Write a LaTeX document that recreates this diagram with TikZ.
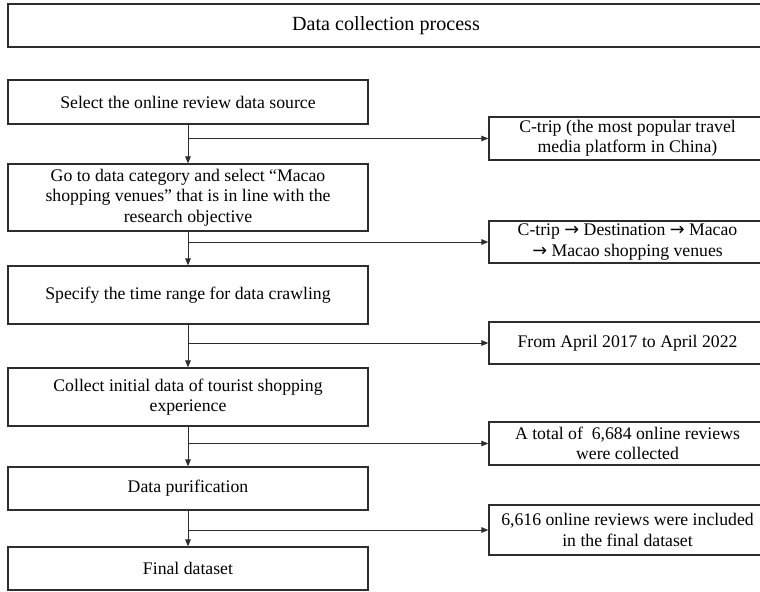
\documentclass[tikz,border=0pt]{standalone}
\usepackage{fontspec}
\setmainfont{Liberation Serif}
\newfontfamily\arrowfont{DejaVu Sans}
\usepackage{tikz}
\usetikzlibrary{arrows.meta,positioning}
\definecolor{clrL}{RGB}{45,45,45}
\newcommand{\thento}{{\arrowfont →}}
\tikzset{
  stepbox/.style={rectangle,draw=clrL,line width=0.9pt,minimum width=9cm,
    align=center,inner sep=2pt,font=\fontsize{12.6}{14.4}\selectfont},
  titlebox/.style={stepbox,minimum width=18.9cm,minimum height=1.075cm,
    font=\fontsize{14.3}{16}\selectfont},
  infobox/.style={stepbox,minimum width=6.925cm},
  arrow/.style={-{Triangle[length=5pt,width=4pt]},line width=0.7pt,color=clrL}
}

\begin{document}
\begin{tikzpicture}[x=0.025cm,y=-0.025cm]
  \useasboundingbox (0,0) rectangle (760,591);
  \clip (0,0) rectangle (760,591);
  \def\lx{188}
  \def\rx{627.5}
  \node[titlebox] (title) at (386,25.5) {Data collection process};
  % main steps
  \node[stepbox,minimum height=1.1cm] (source) at (\lx,102)
    {Select the online review data source};
  \node[stepbox,minimum height=1.675cm] (category) at (\lx,197.5)
    {Go to data category and select “Macao\\shopping venues” that is in line with the\\research objective};
  \node[stepbox,minimum height=1.45cm] (range) at (\lx,295)
    {Specify the time range for data crawling};
  \node[stepbox,minimum height=1.45cm] (collect) at (\lx,397)
    {Collect initial data of tourist shopping\\experience};
  \node[stepbox,minimum height=1.075cm] (purify) at (\lx,488.5) {Data purification};
  \node[stepbox,minimum height=1.075cm] (final) at (\lx,568.5) {Final dataset};
  % details
  \node[infobox,minimum height=1.075cm] (ctrip) at (\rx,138.5)
    {C-trip (the most popular travel\\media platform in China)};
  \node[infobox,minimum height=1.05cm] (path) at (\rx,242)
    {C-trip \thento{} Destination \thento{} Macao\\\thento{} Macao shopping venues};
  \node[infobox,minimum height=1.05cm] (period) at (\rx,343)
    {From April 2017 to April 2022};
  \node[infobox,minimum height=1.075cm] (total) at (\rx,443.5)
    {A total of~ 6,684 online reviews\\were collected};
  \node[infobox,minimum height=1.25cm] (kept) at (\rx,530)
    {6,616 online reviews were included\\in the final dataset};
  \draw[arrow] (source) -- (category);
  \draw[arrow] (category) -- (range);
  \draw[arrow] (range) -- (collect);
  \draw[arrow] (collect) -- (purify);
  \draw[arrow] (purify) -- (final);
  \draw[arrow] (source.south |- ctrip.west) -- (ctrip.west);
  \draw[arrow] (category.south |- path.west) -- (path.west);
  \draw[arrow] (range.south |- period.west) -- (period.west);
  \draw[arrow] (collect.south |- total.west) -- (total.west);
  \draw[arrow] (purify.south |- kept.west) -- (kept.west);
\end{tikzpicture}
\end{document}
